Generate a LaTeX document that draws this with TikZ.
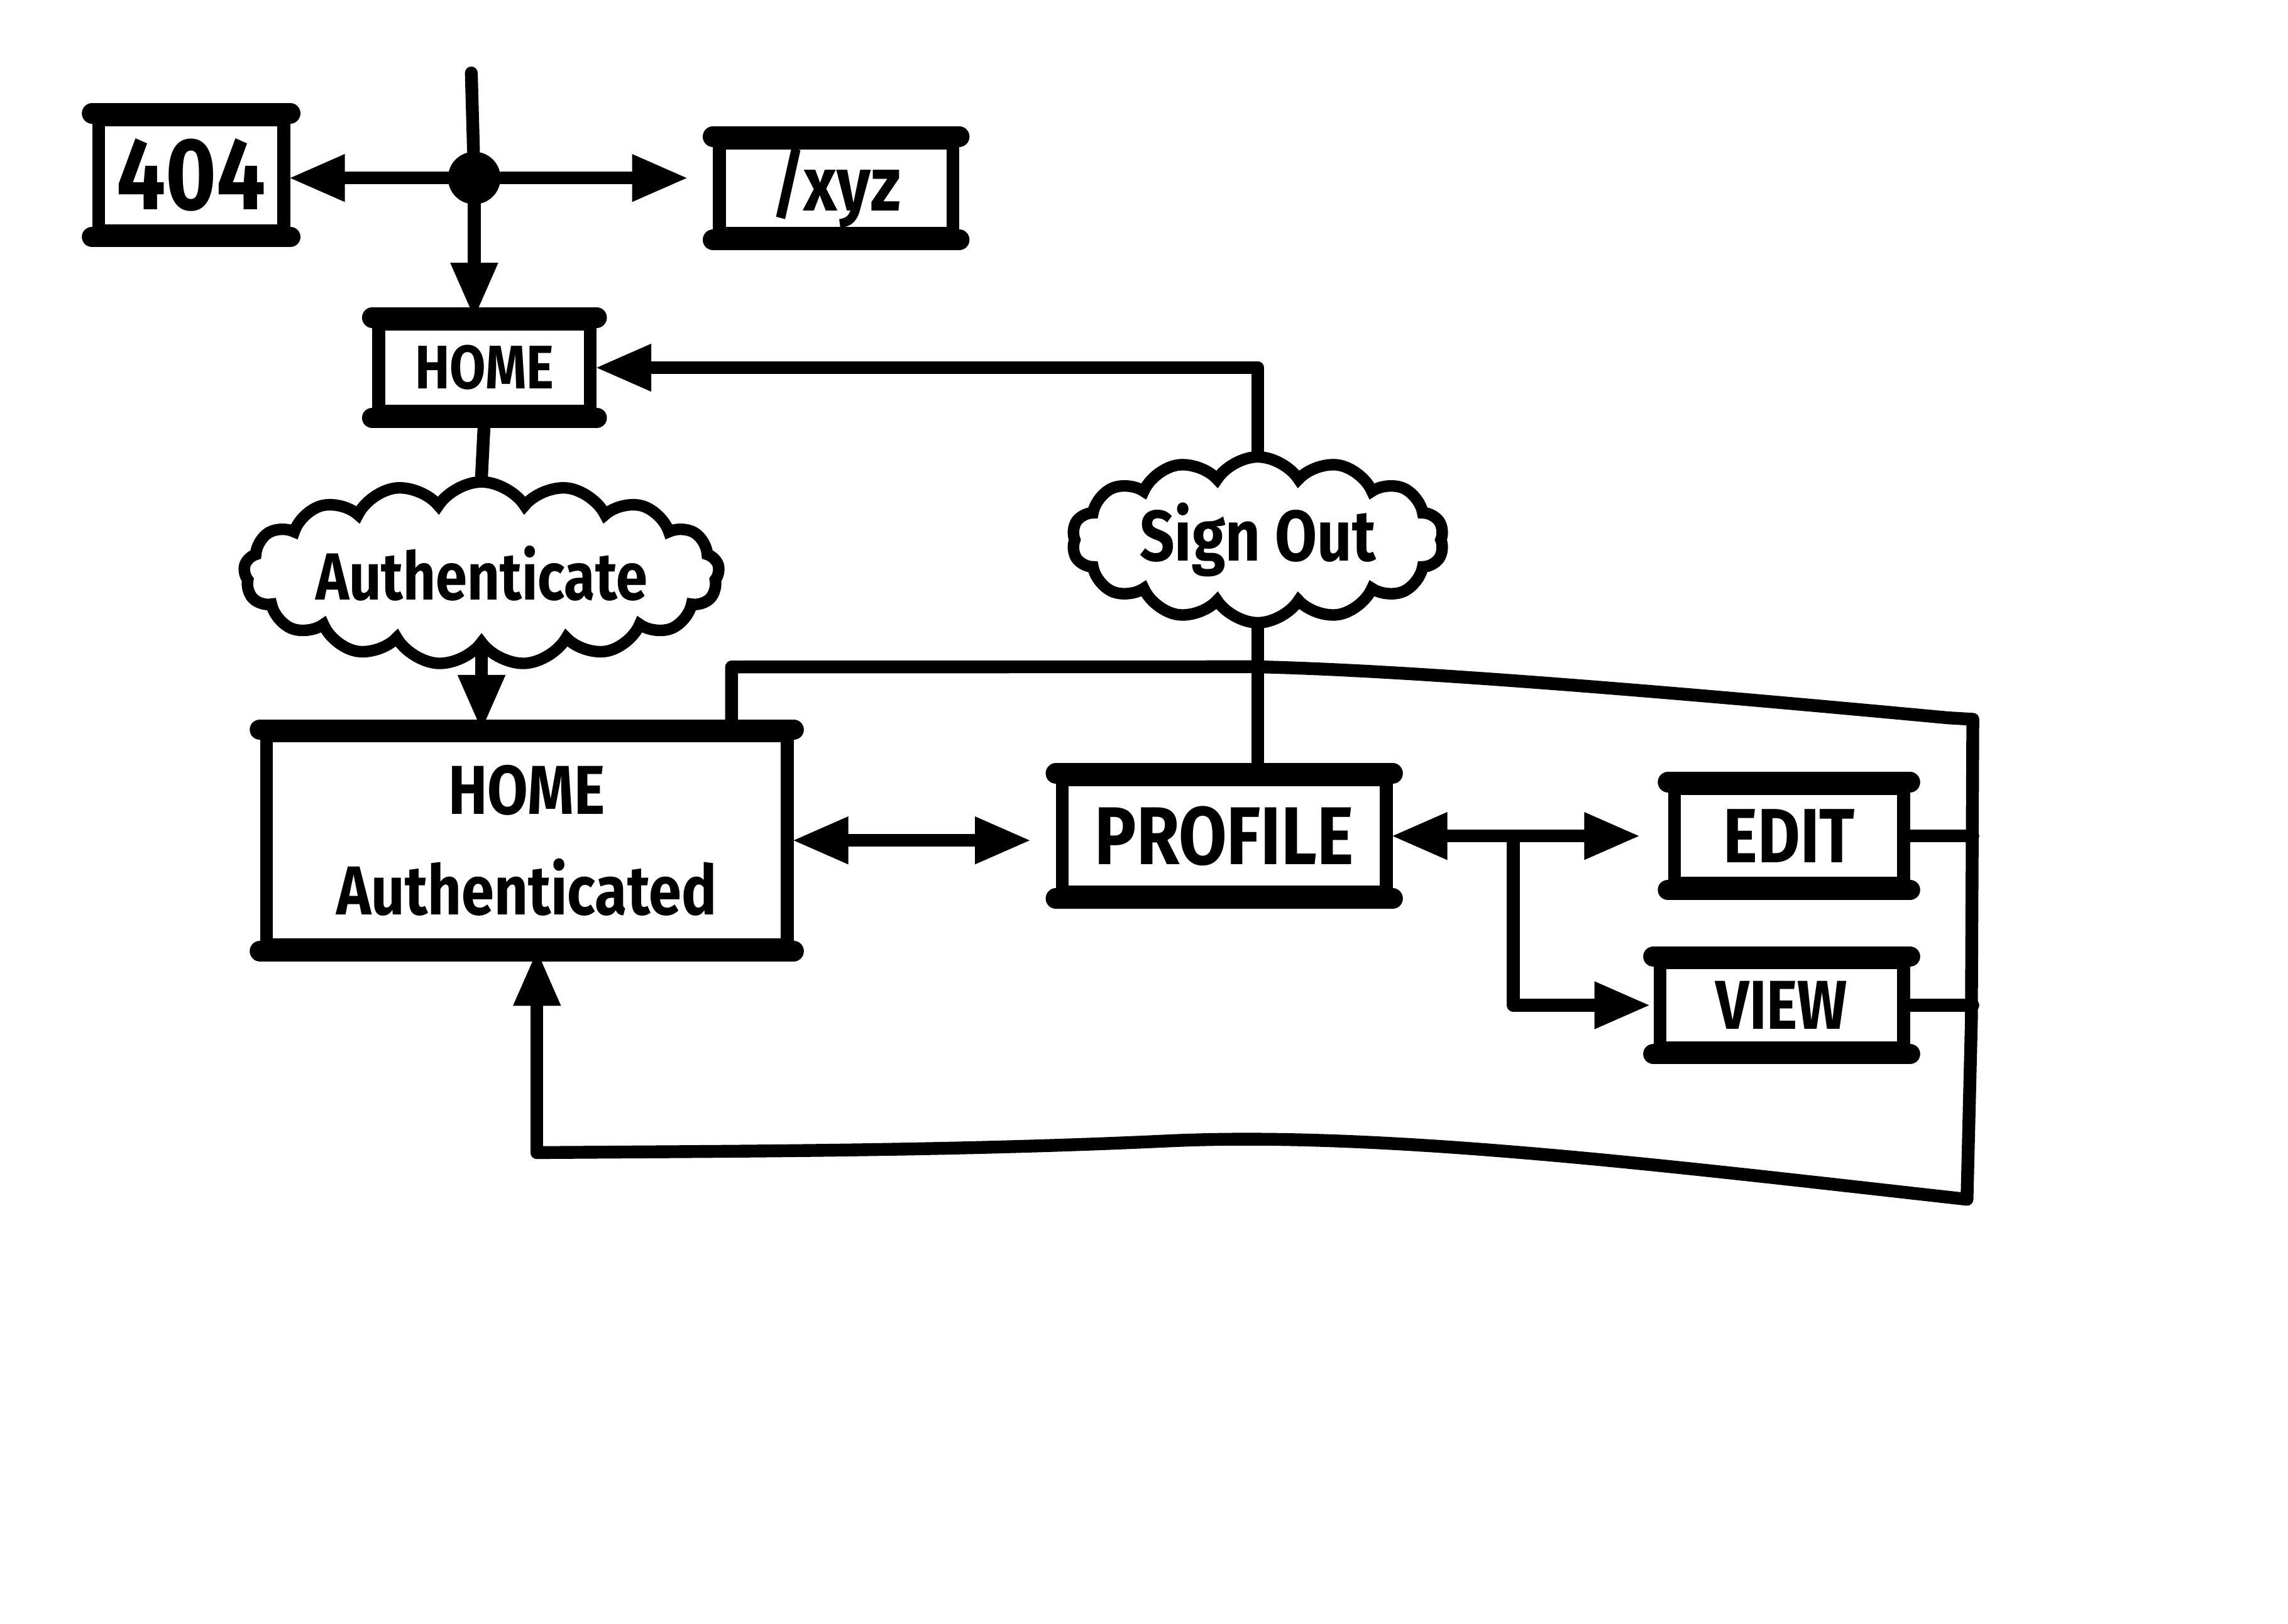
\documentclass[tikz,border=0pt]{standalone}
\usepackage{fontspec}
\setmainfont{Fira Sans}[FakeStretch=0.85]
\usetikzlibrary{arrows.meta,shapes.symbols,calc}
\tikzset{
  pen/.style={line width=5pt, line cap=round, line join=round},
  tip/.tip={Triangle[length=0.75cm,width=0.65cm,fill=black,line width=1pt]},
  arr/.style={pen,-tip},
  darr/.style={pen,tip-tip},
  box/.style={draw, line width=5pt, inner sep=0pt, font=\bfseries, align=center},
  thickedge/.style={line width=8pt, line cap=round},
  cloudbox/.style={cloud, draw, line width=4.5pt, cloud puffs=17, cloud puff arc=115, inner sep=0pt, font=\bfseries, fill=white},
}
\begin{document}
\begin{tikzpicture}[x=0.02cm,y=-0.02cm]
\fill[white] (0,0) rectangle (1568,1113);
\useasboundingbox (0,0) rectangle (1568,1113);

% boxes
\node[box, minimum width=2.54cm, minimum height=1.52cm, font=\bfseries\fontsize{40}{42}\selectfont] (n404) at (131,120) {404};
\node[box, minimum width=3.2cm, minimum height=1.24cm, font=\bfseries\fontsize{30}{32}\selectfont] (xyz) at (573,129) {/xyz};
\node[box, minimum width=2.9cm, minimum height=1.2cm, font=\bfseries\fontsize{24}{26}\selectfont] (home) at (332,252) {HOME};
\node[box, minimum width=7.14cm, minimum height=2.86cm, font=\bfseries\fontsize{27}{32}\selectfont] (ha) at (361,576) {HOME\\[0.25cm]Authenticated};
\node[box, minimum width=4.44cm, minimum height=1.54cm, font=\bfseries\fontsize{32}{34}\selectfont] (profile) at (839,573) {PROFILE};
\node[box, minimum width=3.14cm, minimum height=1.3cm, font=\bfseries\fontsize{30}{32}\selectfont] (edit) at (1226,573) {EDIT};
\node[box, minimum width=3.34cm, minimum height=1.16cm, font=\bfseries\fontsize{27}{29}\selectfont] (view) at (1221,689) {VIEW};
\foreach \n in {n404,xyz,home,ha,profile,edit,view}{
  \draw[thickedge] (\n.north west) -- (\n.north east) (\n.south west) -- (\n.south east);
}

% clouds
\node[cloudbox, minimum width=6.3cm, minimum height=1.85cm, aspect=3.4, font=\bfseries\fontsize{26}{28}\selectfont] (auth) at (330,393) {Authenticate};
\node[cloudbox, minimum width=5.1cm, minimum height=2.0cm, aspect=2.6, cloud puffs=14, font=\bfseries\fontsize{28}{30}\selectfont] (so) at (862,370) {Sign Out};

% junction
\node[circle, fill, minimum size=0.72cm, inner sep=0pt] (dot) at (325,122) {};
\coordinate (top) at (323,50);
\draw[pen] (top) -- (dot);
\draw[arr] (dot) -- (dot -| n404.east);
\draw[arr, shorten >=0.36cm] (dot) -- (dot -| xyz.west);
\draw[arr] (dot) -- (dot |- home.north);

% home to authenticate
\draw[pen] (home.south) -- (auth.north);
\draw[arr] (auth.south) -- (auth.south |- ha.north);

% home authenticated <-> profile
\draw[darr, shorten >=0.36cm] (ha.east) -- (ha.east -| profile.west);

% profile - sign out - home
\draw[pen] (so.south) -- (so.south |- profile.north);
\draw[arr] (so.north) |- (home.east);

% profile <-> edit, view
\draw[darr, shorten >=0.4cm] (profile.east) -- (edit.west);
\coordinate (br) at (1037,575);
\draw[arr, shorten >=0.06cm] (br) |- (view.west);

% right loop
\coordinate (tr) at (1352,493);
\coordinate (brr) at (1348,822);
\coordinate (bl) at (368,790);
\draw[pen] (edit.east) -- (edit.east -| tr);
\draw[pen] (view.east) -- (view.east -| tr);
\draw[pen] ([xshift=-0.85cm]ha.north east) -- ++(0,-43) -- (860,457) .. controls (950,459) and (1100,470) .. (1335,492) -- (tr)
  -- (1351,700) -- (brr) .. controls (1150,800) and (950,775) .. (800,782) .. controls (650,789) and (500,789) .. (bl);
\draw[arr] (bl) -- (bl |- ha.south);
\end{tikzpicture}
\end{document}
